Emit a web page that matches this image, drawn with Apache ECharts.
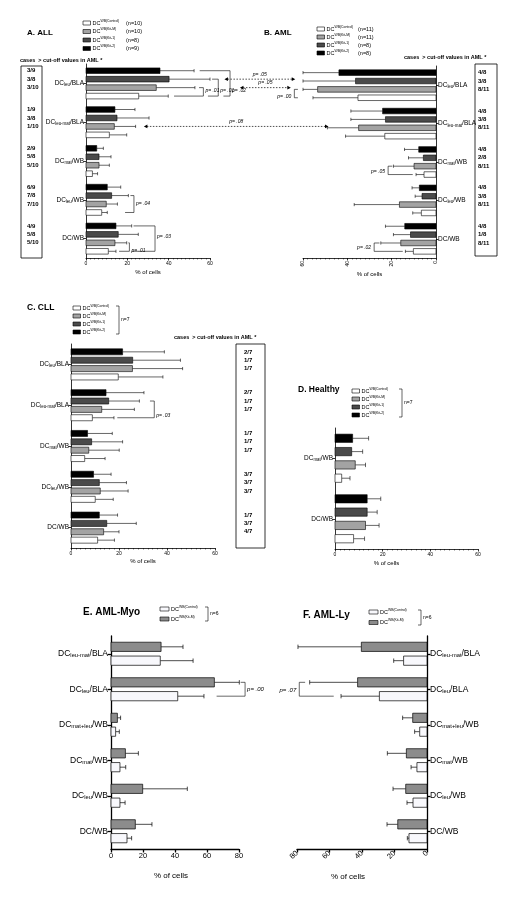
<!DOCTYPE html>
<html><head><meta charset="utf-8">
<script src="https://cdn.jsdelivr.net/npm/echarts@6/dist/echarts.min.js"></script>
<style>html,body{margin:0;padding:0;background:#fff;}#c{width:526px;height:912px;}</style>
</head><body><div id="c"></div>
<script>
const FONT = '"Liberation Sans", Arial, Helvetica, sans-serif';

// ---------------- categories ----------------
const catsABC = ['DC_leu/BLA', 'DC_leu-mat/BLA', 'DC_mat/WB', 'DC_leu/WB', 'DC/WB'];
const catsD = ['DC_mat/WB', 'DC/WB'];
const catsEF = ['DC_leu-mat/BLA', 'DC_leu/BLA', 'DC_mat+leu/WB', 'DC_mat/WB', 'DC_leu/WB', 'DC/WB'];

// ---------------- A. ALL (mean % and SD) ----------------
const A_kit2 = [35.8, 14.0, 5.2, 10.3, 14.5];
const A_kit2_sd = [16.5, 9.7, 3.2, 6.5, 7.6];
const A_kit1 = [40.2, 15.0, 6.3, 12.4, 15.6];
const A_kit1_sd = [19.8, 15.5, 5.8, 8.1, 9.7];
const A_kitM = [34.0, 13.7, 6.3, 9.8, 14.0];
const A_kitM_sd = [18.7, 10.3, 5.0, 5.4, 5.7];
const A_ctrl = [25.5, 11.3, 3.1, 7.6, 10.8];
const A_ctrl_sd = [14.3, 8.4, 2.5, 2.7, 3.7];

// ---------------- B. AML ----------------
const B_kit2 = [43.8, 24.1, 7.8, 7.5, 14.1];
const B_kit2_sd = [16.2, 14.3, 6.4, 3.3, 8.7];
const B_kit1 = [36.3, 22.8, 5.7, 6.3, 11.5];
const B_kit1_sd = [23.7, 15.6, 6.7, 3.1, 7.7];
const B_kitM = [53.4, 34.9, 9.9, 16.5, 15.9];
const B_kitM_sd = [6.6, 14.1, 9.3, 20.4, 9.0];
const B_ctrl = [35.2, 23.1, 5.4, 6.6, 10.2];
const B_ctrl_sd = [20.3, 17.7, 3.6, 3.9, 3.6];

// ---------------- C. CLL ----------------
const C_kit2 = [21.5, 14.6, 6.9, 9.4, 11.8];
const C_kit2_sd = [17.4, 15.8, 10.3, 7.3, 7.6];
const C_kit1 = [25.7, 15.7, 8.6, 11.8, 14.9];
const C_kit1_sd = [19.9, 12.8, 12.9, 11.3, 12.3];
const C_kitM = [25.6, 12.8, 7.4, 12.2, 13.6];
const C_kitM_sd = [20.9, 13.6, 12.7, 11.6, 6.4];
const C_ctrl = [19.7, 8.9, 5.7, 10.1, 11.1];
const C_ctrl_sd = [18.6, 9.0, 8.5, 7.5, 7.0];

// ---------------- D. Healthy ----------------
const D_kit2 = [7.4, 13.5];
const D_kit2_sd = [6.7, 5.7];
const D_kit1 = [7.0, 13.5];
const D_kit1_sd = [4.6, 4.2];
const D_kitM = [8.5, 12.8];
const D_kitM_sd = [4.3, 5.7];
const D_ctrl = [2.8, 7.8];
const D_ctrl_sd = [3.5, 4.6];

// ---------------- E. AML-Myo ----------------
const E_kitM = [31.3, 64.6, 4.0, 9.0, 19.8, 15.2];
const E_kitM_sd = [13.7, 15.6, 2.0, 8.1, 27.9, 10.4];
const E_ctrl = [30.8, 41.7, 2.9, 5.6, 5.6, 10.0];
const E_ctrl_sd = [20.5, 16.4, 2.3, 3.6, 3.2, 2.9];

// ---------------- F. AML-Ly ----------------
const F_kitM = [40.4, 42.7, 8.8, 12.7, 13.1, 18.0];
const F_kitM_sd = [39.0, 29.5, 6.2, 11.7, 7.8, 6.6];
const F_ctrl = [14.4, 29.3, 4.5, 6.2, 8.6, 11.1];
const F_ctrl_sd = [6.1, 23.6, 3.1, 3.6, 3.7, 1.0];

// ---------------- cases > cut-off (box texts) ----------------
const A_cases = [['3/9','3/8','3/10'],['1/9','3/8','1/10'],['2/9','5/8','5/10'],['6/9','7/8','7/10'],['4/9','5/8','5/10']];
const B_cases = [['4/8','3/8','8/11'],['4/8','3/8','8/11'],['4/8','2/8','8/11'],['4/8','3/8','8/11'],['4/8','1/8','8/11']];
const C_cases = [['2/7','1/7','1/7'],['2/7','1/7','1/7'],['1/7','1/7','1/7'],['3/7','3/7','3/7'],['1/7','3/7','4/7']];

// ---------------- legends ----------------
const legend4 = ['WB(Control)', 'WB(Kit-M)', 'WB(Kit-1)', 'WB(Kit-2)'];
const legendA_n = ['(n=10)', '(n=10)', '(n=8)', '(n=9)'];
const legendB_n = ['(n=11)', '(n=11)', '(n=8)', '(n=8)'];
const legend2 = ['WB(Control)', 'WB(Kit-M)'];

// ---------------- styling ----------------
const BLK = '#000000', DARK = '#4a4a4a', LIGHT = '#a3a3a3', WHITE = '#ffffff';
const GRAY2 = '#8c8c8c', WHITE2 = '#f8f8fc';

const panels = [
  { grid:{left:86, top:64, width:124, height:194}, cats:catsABC, inverse:false, side:'left', max:60, interval:20, minor:true,
    groups:[[A_kit2,A_kit2_sd],[A_kit1,A_kit1_sd],[A_kitM,A_kitM_sd],[A_ctrl,A_ctrl_sd]], colors:[BLK,DARK,LIGHT,WHITE],
    slotFrac:0.218, barFrac:0.145, cap:1.6, lw:0.6, axisW:0.8, tick:2.5, xls:5, rot:0, catF:6.5, catM:2, nameGap:11, nameF:6, namePad:0 },
  { grid:{left:303, top:66, width:133, height:192}, cats:catsABC, inverse:true, side:'right', max:60, interval:20, minor:true,
    groups:[[B_kit2,B_kit2_sd],[B_kit1,B_kit1_sd],[B_kitM,B_kitM_sd],[B_ctrl,B_ctrl_sd]], colors:[BLK,DARK,LIGHT,WHITE],
    slotFrac:0.218, barFrac:0.145, cap:1.6, lw:0.6, axisW:0.8, tick:2.5, xls:5, rot:90, catF:6.5, catM:2, nameGap:13, nameF:6, namePad:0 },
  { grid:{left:71, top:344, width:144, height:204}, cats:catsABC, inverse:false, side:'left', max:60, interval:20, minor:true,
    groups:[[C_kit2,C_kit2_sd],[C_kit1,C_kit1_sd],[C_kitM,C_kitM_sd],[C_ctrl,C_ctrl_sd]], colors:[BLK,DARK,LIGHT,WHITE],
    slotFrac:0.205, barFrac:0.148, cap:1.6, lw:0.6, axisW:0.8, tick:2.5, xls:5, rot:0, catF:6.5, catM:2, nameGap:10, nameF:6, namePad:0 },
  { grid:{left:335, top:428, width:143, height:121}, cats:catsD, inverse:false, side:'left', max:60, interval:20, minor:true,
    groups:[[D_kit2,D_kit2_sd],[D_kit1,D_kit1_sd],[D_kitM,D_kitM_sd],[D_ctrl,D_ctrl_sd]], colors:[BLK,DARK,LIGHT,WHITE],
    slotFrac:0.22, barFrac:0.137, cap:2.2, lw:0.6, axisW:0.8, tick:2.5, xls:5, rot:0, catF:6.5, catM:2, nameGap:11, nameF:6, namePad:[0,40,0,0] },
  { grid:{left:111, top:636, width:128, height:213}, cats:catsEF, inverse:false, side:'left', max:80, interval:20, minor:false,
    groups:[[E_kitM,E_kitM_sd],[E_ctrl,E_ctrl_sd]], colors:[GRAY2,WHITE2],
    slotFrac:0.39, barFrac:0.26, cap:2.2, lw:0.7, axisW:1.3, tick:3.5, xls:7.5, rot:0, catF:8.5, catM:3, nameGap:23, nameF:8, namePad:[0,8,0,0] },
  { grid:{left:297, top:636, width:130, height:213}, cats:catsEF, inverse:true, side:'right', max:80, interval:20, minor:false,
    groups:[[F_kitM,F_kitM_sd],[F_ctrl,F_ctrl_sd]], colors:[GRAY2,WHITE2],
    slotFrac:0.39, barFrac:0.26, cap:2.2, lw:0.7, axisW:1.3, tick:3.5, xls:7.5, rot:45, catF:8.5, catM:3, nameGap:24, nameF:8, namePad:[0,28,0,0] }
];

function fmtCat(s) {
  const m = s.match(/^DC(?:_([^\/]+))?(\/.*)$/);
  if (!m) return '{a|' + s + '}';
  return m[1] ? '{a|DC}{s|' + m[1] + '}{a|' + m[2] + '}' : '{a|DC' + m[2] + '}';
}

function makeRender(p) {
  return function (params, api) {
    const v = api.value(0), ci = api.value(1), sd = api.value(2), slot = api.value(3);
    const band = api.size([0, 1])[1];
    const n = p.groups.length;
    const base = api.coord([0, ci]);
    const end = api.coord([v, ci]);
    const err = api.coord([v + sd, ci]);
    const yc = base[1] + (slot - (n - 1) / 2) * p.slotFrac * band;
    const h = p.barFrac * band;
    const st = {stroke:'#000', lineWidth:p.lw};
    return {type:'group', children:[
      {type:'line', shape:{x1:end[0], y1:yc, x2:err[0], y2:yc}, style:st},
      {type:'line', shape:{x1:err[0], y1:yc - p.cap, x2:err[0], y2:yc + p.cap}, style:st},
      {type:'rect', shape:{x:Math.min(base[0], end[0]), y:yc - h / 2, width:Math.abs(end[0] - base[0]), height:h},
        style:{fill:p.colors[slot], stroke:'#000', lineWidth:p.lw}}
    ]};
  };
}

function buildData(p) {
  const d = [];
  p.groups.forEach((g, slot) => g[0].forEach((m, ci) => d.push([m, ci, g[1][ci], slot])));
  return d;
}

const chart = echarts.init(document.getElementById('c'), null, {renderer:'canvas'});

const option = {
  animation:false,
  backgroundColor:'#ffffff',
  textStyle:{fontFamily:FONT},
  grid: panels.map(p => Object.assign({containLabel:false, outerBoundsMode:'none'}, p.grid)),
  xAxis: panels.map((p, i) => ({
    type:'value', gridIndex:i, min:0, max:p.max, interval:p.interval, inverse:p.inverse,
    axisLine:{show:true, onZero:false, lineStyle:{color:'#000', width:p.axisW}},
    axisTick:{show:true, length:p.tick, lineStyle:{color:'#000', width:p.axisW}},
    minorTick:{show:p.minor, splitNumber:10, length:1.5, lineStyle:{color:'#000', width:0.5}},
    splitLine:{show:false}, minorSplitLine:{show:false},
    axisLabel:{fontSize:p.xls, color:'#000', fontFamily:FONT, rotate:p.rot, margin:3},
    name:'% of cells', nameLocation:'middle', nameGap:p.nameGap,
    nameTextStyle:{fontSize:p.nameF, color:'#000', fontFamily:FONT, padding:p.namePad}
  })),
  yAxis: panels.map((p, i) => ({
    type:'category', gridIndex:i, data:p.cats, inverse:true, position:p.side,
    axisLine:{show:true, onZero:false, lineStyle:{color:'#000', width:p.axisW}},
    axisTick:{show:true, alignWithLabel:true, length:p.tick, lineStyle:{color:'#000', width:p.axisW}},
    splitLine:{show:false},
    axisLabel:{interval:0, margin:p.catM, formatter:fmtCat,
      rich:{a:{fontSize:p.catF, fontFamily:FONT, color:'#000', lineHeight:p.catF + 1},
            s:{fontSize:p.catF * 0.68, fontFamily:FONT, color:'#000', verticalAlign:'bottom', lineHeight:p.catF * 0.5}}}
  })),
  series: panels.map((p, i) => ({
    type:'custom', xAxisIndex:i, yAxisIndex:i, renderItem:makeRender(p), data:buildData(p),
    encode:{x:0, y:1}, silent:true, clip:false
  }))
};
chart.setOption(option);

// ---------------- graphic helpers ----------------
const G = [];
function txt(x, y, text, o) {
  G.push({type:'text', x:x, y:y, silent:true, z:10,
    style:Object.assign({text:text, fontFamily:FONT, fontSize:6, fill:'#000', align:'left', verticalAlign:'middle'}, o || {})});
}
function poly(pts, o) {
  G.push({type:'polyline', silent:true, z:10, shape:{points:pts},
    style:Object.assign({stroke:'#000', lineWidth:0.6, fill:null}, o || {})});
}
function box(x, y, w, h, fill, o) {
  G.push({type:'rect', silent:true, z:10, shape:{x:x, y:y, width:w, height:h},
    style:Object.assign({fill:fill, stroke:'#000', lineWidth:0.6}, o || {})});
}
function head(x, y, dir, s) {
  G.push({type:'polygon', silent:true, z:10, shape:{points:[[x, y], [x - dir * s, y - s * 0.55], [x - dir * s, y + s * 0.55]]},
    style:{fill:'#000'}});
}
function supText(x, y, main, sup, fs) {
  G.push({type:'text', x:x, y:y, silent:true, z:10, style:{
    text:'{a|' + main + '}{s|' + sup + '}', fontFamily:FONT, fontSize:fs, fill:'#000', align:'left', verticalAlign:'middle',
    rich:{a:{fontSize:fs, fontFamily:FONT, fill:'#000', lineHeight:fs + 2},
          s:{fontSize:fs * 0.62, fontFamily:FONT, fill:'#000', verticalAlign:'top', lineHeight:fs * 0.7}}}});
}
function legendBlock(x, y0, dy, sups, colors, sw, sh, fs, nTexts, nx) {
  sups.forEach((s, k) => {
    const y = y0 + k * dy;
    box(x, y - sh / 2, sw, sh, colors[k], {lineWidth:0.6});
    supText(x + sw + 2, y, 'DC', s, fs);
    if (nTexts) txt(nx, y, nTexts[k], {fontSize:fs});
  });
}
function sideBracket(x, yTop, yBot, label, fs) {
  poly([[x - 3, yTop], [x, yTop], [x, yBot], [x - 3, yBot]]);
  txt(x + 2, (yTop + yBot) / 2, label, {fontSize:fs});
}

// titles
txt(27, 33, 'A. ALL', {fontSize:8, fontWeight:'bold'});
txt(264, 33, 'B. AML', {fontSize:8, fontWeight:'bold'});
txt(27, 308, 'C. CLL', {fontSize:8.5, fontWeight:'bold'});
txt(298, 390, 'D. Healthy', {fontSize:8.5, fontWeight:'bold'});
txt(83, 612, 'E. AML-Myo', {fontSize:10, fontWeight:'bold'});
txt(303, 615, 'F. AML-Ly', {fontSize:10, fontWeight:'bold'});

// legends
const col4 = [WHITE, LIGHT, DARK, BLK];
legendBlock(83, 23, 8.5, legend4, col4, 7.5, 4, 5.5, legendA_n, 126);
legendBlock(317, 29, 8, legend4, col4, 7.5, 4, 5.5, legendB_n, 358);
legendBlock(73, 308, 8, legend4, col4, 7.5, 4, 5.5, null, 0);
sideBracket(119, 306, 334, 'n=7', 5);
legendBlock(352, 391, 8, legend4, col4, 7.5, 4, 5.5, null, 0);
sideBracket(402, 389, 417, 'n=7', 5);
legendBlock(160, 609, 10, legend2, [WHITE2, GRAY2], 9, 4, 5.5, null, 0);
sideBracket(208, 607, 621, 'n=6', 5);
legendBlock(369, 612, 10.5, legend2, [WHITE2, GRAY2], 9, 4, 5.5, null, 0);
sideBracket(421, 610, 625, 'n=6', 5);

// "cases" headers and boxes
const hdr = 'cases  > cut-off values in AML *';
txt(20, 60, hdr, {fontSize:5.5, fontWeight:'bold'});
txt(404, 57, hdr, {fontSize:5.5, fontWeight:'bold'});
txt(174, 337, hdr, {fontSize:5.5, fontWeight:'bold'});
box(21, 66, 21, 192, 'transparent', {lineWidth:0.8});
box(475, 64, 22, 192, 'transparent', {lineWidth:0.8});
box(236, 344, 29, 204, 'transparent', {lineWidth:0.8});

// ---------------- data-linked positions ----------------
function P(g, v, ci) { return chart.convertToPixel({gridIndex:g}, [v, ci]); }
function X(g, v) { return P(g, v, 0)[0]; }
function slotY(g, ci, slot) {
  const p = panels[g];
  const band = p.grid.height / p.cats.length;
  return P(g, 0, ci)[1] + (slot - (p.groups.length - 1) / 2) * p.slotFrac * band;
}

// box texts
[[0, A_cases, 27], [1, B_cases, 478], [2, C_cases, 244]].forEach(([g, cases, x]) => {
  cases.forEach((row, ci) => row.forEach((t, k) => txt(x, slotY(g, ci, k), t, {fontSize:6, fontWeight:'bold'})));
});

// significance brackets: grid, category, slots, x of bracket, arm starts, text, side, text slot
const brackets = [
  [0, 0, [2, 3], 56.8, [54.7, 42.6], 'p= .01', 'r', 2.3],
  [0, 0, [1, 3], 64.0, [61.0, 59.0], 'p= .01', 'r', 2.3],
  [0, 0, [0, 3], 69.7, [55.0, 66.5], 'p= .02', 'r', 2.3],
  [0, 3, [1, 3], 23.2, [21.5, 18.9], 'p= .04', 'r', 2.0],
  [0, 4, [0, 3], 33.4, [23.0, 22.0], 'p= .03', 'r', 1.3],
  [0, 4, [2, 3], 21.0, [20.5, 16.0], 'p= .01', 'r', 2.9],
  [1, 0, [2, 3], 63.9, [62.3, 62.3], 'p= .00', 'l', 2.9],
  [1, 2, [2, 3], 21.6, [19.7, 10.5], 'p= .05', 'l', 2.6],
  [1, 4, [2, 3], 27.9, [25.5, 15.0], 'p= .02', 'l', 2.6],
  [2, 1, [1, 3], 34.7, [32.9, 19.3], 'p= .03', 'r', 2.8],
  [4, 1, [0, 1], 83.8, [81.0, 66.0], 'p= .00', 'r', 0.5],
  [5, 1, [0, 1], 78.6, [75.0, 57.4], 'p= .07', 'l', 0.6]
];
brackets.forEach(([g, ci, s, xv, arm, t, side, ts]) => {
  const y1 = slotY(g, ci, s[0]), y2 = slotY(g, ci, s[1]);
  const xb = X(g, xv);
  poly([[X(g, arm[0]), y1], [xb, y1], [xb, y2], [X(g, arm[1]), y2]]);
  const fs = g >= 4 ? 6 : 5;
  const outward = (X(g, xv + 1) > xb) ? 1 : -1; // direction of larger values
  const ty = slotY(g, ci, ts);
  if (side === 'r') txt(xb + 2, ty, t, {fontSize:fs, fontStyle:'italic'});
  else txt(xb - 3, ty, t, {fontSize:fs, fontStyle:'italic', align:'right'});
});

// dotted comparison arrows between A (ALL) and B (AML)
const arrows = [
  [0, 1, 67.0, 63.5, 'p= .05'],
  [0, 2, 74.5, 65.5, 'p= .05'],
  [1, 2, 28.0, 48.5, 'p= .08']
];
arrows.forEach(([ci, slot, va, vb, t]) => {
  const y = slotY(0, ci, slot);
  const xa = X(0, va), xb = X(1, vb);
  poly([[xa + 3, y], [xb - 3, y]], {lineDash:[1.5, 1.5], lineWidth:0.7});
  head(xa, y, -1, 3.5);
  head(xb, y, 1, 3.5);
  txt((xa + xb) / 2, y - 5, t, {fontSize:5, fontStyle:'italic', align:'center'});
});

chart.setOption({graphic:{elements:G}});
</script>
</body></html>
